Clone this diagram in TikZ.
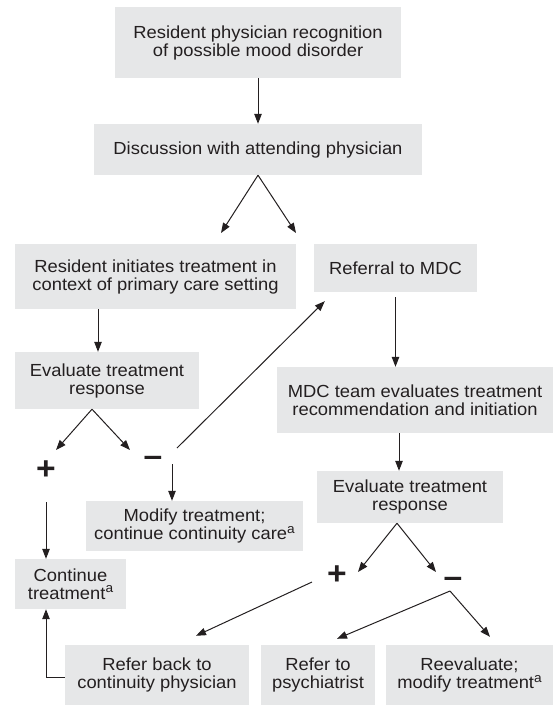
\documentclass[tikz,border=0pt]{standalone}
\usepackage{fontspec}
\setmainfont{Liberation Sans}[FakeStretch=1.05]
\usepackage{tikz}
\usetikzlibrary{arrows.meta,calc}
\definecolor{boxgray}{HTML}{E6E7E8}
\definecolor{ink}{HTML}{231F20}
\newcommand{\fna}{\raisebox{6.5pt}{\fontsize{13}{13}\selectfont a}}

\begin{document}
\begin{tikzpicture}[x=1pt, y=-1pt,
  box/.style={fill=boxgray, inner sep=0pt, align=center, text=ink,
    font=\fontsize{17.5}{18}\selectfont},
  sign/.style={inner sep=0pt, text=ink, font=\fontsize{32}{32}\selectfont\bfseries},
  arr/.style={-{Triangle[length=10pt,width=7.5pt]}, line width=1pt, draw=ink}]
  \useasboundingbox (0,0) rectangle (553,705);

  % boxes
  \node[box, minimum width=286pt, minimum height=71pt] (recog) at (258,42.5)
    {Resident physician recognition\\of possible mood disorder};
  \node[box, minimum width=328pt, minimum height=51pt] (disc) at (258,149.5)
    {Discussion with attending physician};
  \node[box, minimum width=281pt, minimum height=65pt] (init) at (155.5,276.5)
    {Resident initiates treatment in\\context of primary care setting};
  \node[box, minimum width=163pt, minimum height=48pt] (refmdc) at (395.5,268)
    {Referral to MDC};
  \node[box, minimum width=184pt, minimum height=57pt] (evalL) at (107,380.5)
    {Evaluate treatment\\response};
  \node[box, minimum width=276pt, minimum height=66pt] (team) at (415,400)
    {MDC team evaluates treatment\\recommendation and initiation};
  \node[box, minimum width=186pt, minimum height=52pt] (evalR) at (410,497)
    {Evaluate treatment\\response};
  \node[box, minimum width=217pt, minimum height=50pt] (modify) at (194.5,526)
    {Modify treatment;\\continue continuity care\fna};
  \node[box, minimum width=111pt, minimum height=50pt] (cont) at (70.5,584)
    {Continue\\treatment\fna};
  \node[box, minimum width=184pt, minimum height=60pt] (back) at (157,675)
    {Refer back to\\continuity physician};
  \node[box, minimum width=114pt, minimum height=60pt] (psych) at (318,675)
    {Refer to\\psychiatrist};
  \node[box, minimum width=167pt, minimum height=60pt] (reeval) at (469.5,675)
    {Reevaluate;\\modify treatment\fna};

  % outcome signs
  \node[sign] (plusL) at (46,470) {+};
  \node[sign] (minusL) at (153,461) {--};
  \node[sign] (plusR) at (337,575) {+};
  \node[sign] (minusR) at (453,582) {--};

  % free ends
  \coordinate (d1) at (221,233);
  \coordinate (d2) at (296,233);
  \coordinate (e1) at (56,450);
  \coordinate (e2) at (130,450);
  \coordinate (r1) at (358,572);
  \coordinate (r2) at (436,572);
  \coordinate (m0) at (172,464);
  \coordinate (n0) at (450,591);

  \draw[arr] (recog.south) -- (disc.north);
  \path (disc.south) edge[arr] (d1) edge[arr] (d2);
  \draw[arr] ([xshift=-57.5pt]init.south) -- ([xshift=-9pt]evalL.north);
  \path ([xshift=-15pt]evalL.south) edge[arr] (e1) edge[arr] (e2);
  \draw[arr] ([xshift=24pt,yshift=13pt]minusL.center) -- ([xshift=11pt,yshift=-9pt]refmdc.south west);
  \draw[arr] (m0) -- (m0 |- modify.north);
  \draw[arr] ([yshift=-32pt]plusL.center) -- (plusL |- cont.north);
  \draw[arr] ([yshift=-5pt]refmdc.south) -- (refmdc.south |- team.north);
  \draw[arr] ([xshift=-16pt]team.south) -- ([xshift=-11pt]evalR.north);
  \path ([xshift=-13pt]evalR.south) edge[arr] (r1) edge[arr] (r2);
  \draw[arr] ([xshift=-25pt,yshift=-7pt]plusR.center) -- ([xshift=39pt,yshift=9pt]back.north);
  \path (n0) edge[arr] ([xshift=19pt,yshift=6pt]psych.north)
             edge[arr] ([xshift=20.5pt,yshift=8pt]reeval.north);
  \draw[arr] ([yshift=-2pt]back.west) -| (plusL |- cont.south);
\end{tikzpicture}
\end{document}
